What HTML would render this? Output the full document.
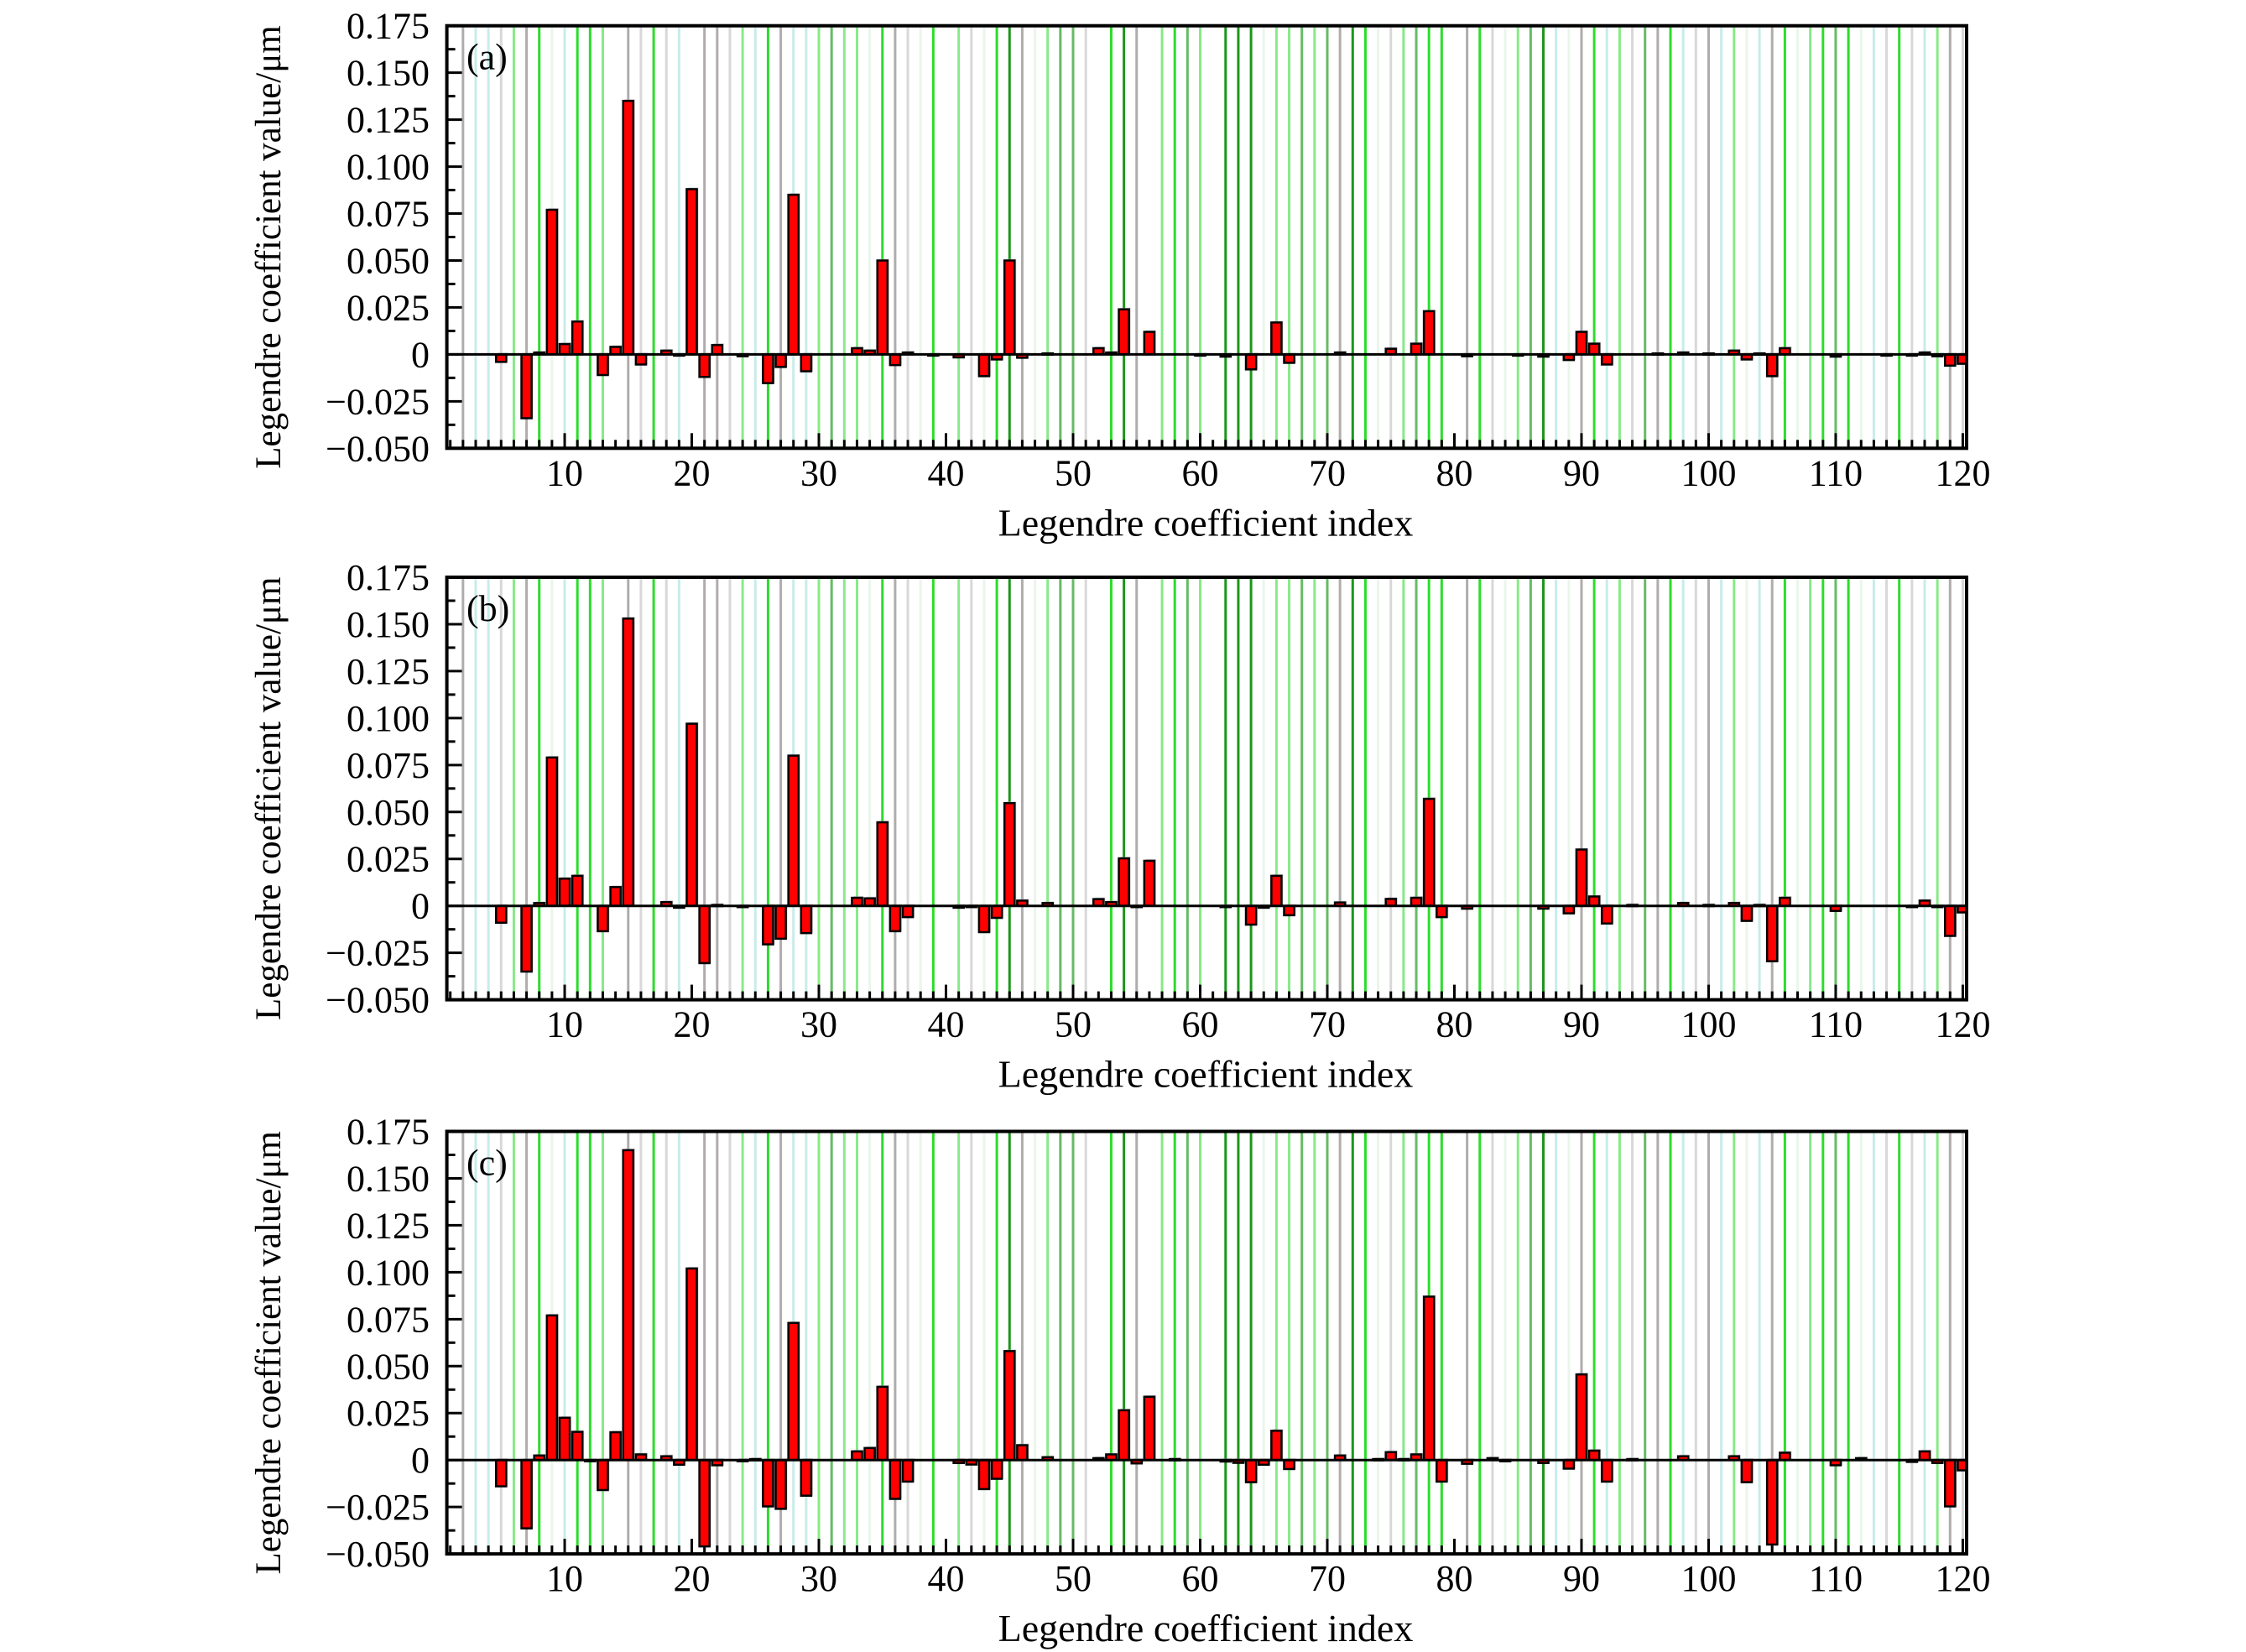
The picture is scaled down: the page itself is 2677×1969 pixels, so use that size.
<!DOCTYPE html>
<html><head><meta charset="utf-8"><style>
html,body{margin:0;padding:0;background:#fff;}
svg{display:block;font-family:"Liberation Serif",serif;}
</style></head><body>
<svg id="fig" width="2677" height="1969" viewBox="0 0 2677 1969" xmlns="http://www.w3.org/2000/svg"></svg>
<script>
// ---- data ----
const panelLabels = ["(a)", "(b)", "(c)"];
const yTicks = [-0.05, -0.025, 0, 0.025, 0.05, 0.075, 0.1, 0.125, 0.15, 0.175];
const yTickLabels = ["\u22120.050","\u22120.025","0","0.025","0.050","0.075","0.100","0.125","0.150","0.175"];
const xTicks = [10,20,30,40,50,60,70,80,90,100,110,120];
// grid line colour code per index 1..120
const gridCodes = "nKcckgKGvc" + "GGgnKkGkcn" + "KKkgcGKccg" + "mggvGKkvGn" + "gkvGdKvgmm" +
                  "knGdKngGmg" + "ndddvggmgm" + "KdGvkgmGGn" + "KGkvgmdcvK" + "GcgkmKGckK" +
                  "cgvcKGvgGm" + "GvckGkcgKk";
const idxA = [5,7,8,9,10,11,13,14,15,16,18,19,20,21,22,24,26,27,28,29,33,34,35,36,37,39,41,43,44,45,46,48,52,53,54,56,60,62,64,66,67,71,75,77,78,81,85,87,89,90,91,92,96,98,100,102,103,104,105,106,110,114,116,117,118,119,120];
const valA = [-0.004,-0.034,0.001,0.077,0.0055,0.0175,-0.011,0.004,0.135,-0.0054,0.002,-0.0005,0.088,-0.012,0.005,-0.001,-0.0153,-0.0067,0.085,-0.009,0.0033,0.002,0.05,-0.0057,0.001,-0.0005,-0.0016,-0.0116,-0.0027,0.05,-0.0018,0.0005,0.0033,0.001,0.024,0.012,-0.0005,-0.0012,-0.008,0.017,-0.0045,0.001,0.003,0.0057,0.023,-0.001,-0.0005,-0.0012,-0.003,0.012,0.0057,-0.0054,0.0005,0.001,0.0005,0.002,-0.0027,0.0005,-0.0116,0.0033,-0.0012,-0.0005,-0.0005,0.001,-0.001,-0.006,-0.005];
const idxB = [5,7,8,9,10,11,13,14,15,18,19,20,21,22,24,26,27,28,29,33,34,35,36,37,41,42,43,44,45,46,48,52,53,54,55,56,62,64,65,66,67,71,75,77,78,79,81,87,89,90,91,92,94,98,100,102,103,104,105,106,110,116,117,118,119,120];
const valB = [-0.009,-0.035,0.0015,0.079,0.0145,0.016,-0.0135,0.010,0.153,0.002,-0.001,0.097,-0.0305,0.0005,-0.0005,-0.0205,-0.0175,0.080,-0.0145,0.0043,0.004,0.0445,-0.0135,-0.006,-0.001,-0.0005,-0.014,-0.0064,0.0547,0.0028,0.0015,0.0036,0.002,0.0253,-0.0005,0.024,-0.0005,-0.010,-0.001,0.016,-0.005,0.0018,0.0037,0.0043,0.057,-0.006,-0.0015,-0.0015,-0.004,0.030,0.005,-0.0094,0.0005,0.0015,0.0005,0.0015,-0.008,0.0005,-0.0295,0.0043,-0.0027,-0.0005,0.0028,-0.0005,-0.016,-0.0035];
const idxC = [5,7,8,9,10,11,12,13,14,15,16,18,19,20,21,22,24,25,26,27,28,29,33,34,35,36,37,41,42,43,44,45,46,48,52,53,54,55,56,58,62,63,64,65,66,67,71,74,75,76,77,78,79,81,83,84,87,89,90,91,92,94,98,102,103,105,106,110,112,116,117,118,119,120];
const valC = [-0.014,-0.0364,0.0024,0.077,0.0225,0.015,-0.0005,-0.016,0.0148,0.165,0.003,0.002,-0.0025,0.102,-0.046,-0.0028,-0.0005,0.0005,-0.0247,-0.026,0.073,-0.019,0.0046,0.0064,0.039,-0.0207,-0.0115,-0.0016,-0.0024,-0.0155,-0.010,0.058,0.0079,0.0015,0.001,0.003,0.0265,-0.0018,0.0337,0.0005,-0.0008,-0.0015,-0.0118,-0.0025,0.0156,-0.0048,0.0024,0.0005,0.0042,0.0005,0.003,0.087,-0.0115,-0.002,0.001,-0.0005,-0.0016,-0.0046,0.0456,0.005,-0.0115,0.0005,0.002,0.002,-0.0118,-0.045,0.0039,-0.0028,0.001,-0.001,0.0046,-0.0016,-0.0247,-0.0055];
const panelIdx = [idxA, idxB, idxC];
const panelVal = [valA, valB, valC];

// ---- layout ----
const NS = "http://www.w3.org/2000/svg";
const svg = document.getElementById("fig");
const L = 532.6, R = 2344, H = 503.6;
const panelTops = [30.7, 688, 1348.5];
const X0 = 0.73, X1 = 120.3, Y0 = -0.05, Y1 = 0.175;
const colorMap = {K:"#b0acac",k:"#d8d8d8",c:"#c8ecea",v:"#eaf6ea",g:"#88ea88",G:"#2cdc2c",m:"#66bb66",d:"#1c961c"};
function xs(v){ return L + (v - X0) / (X1 - X0) * (R - L); }
function mk(tag, attrs, parent){
  const e = document.createElementNS(NS, tag);
  for (const k in attrs) e.setAttribute(k, attrs[k]);
  (parent || svg).appendChild(e);
  return e;
}
panelTops.forEach((top, p) => {
  const bottom = top + H;
  const ys = v => bottom - (v - Y0) / (Y1 - Y0) * H;
  const g = mk("g", {});
  
  
  for (let i = 1; i <= 120; i++) {
    const c = gridCodes[i - 1];
    if (c === "n") continue;
    const ln = mk("line", {x1: xs(i), x2: xs(i), y1: top, y2: bottom, stroke: colorMap[c], "stroke-width": 3}, g);
    
    
  }
  const idx = panelIdx[p], val = panelVal[p];
  const clipId = "clip" + p;
  const cp = mk("clipPath", {id: clipId}, g);
  mk("rect", {x: L, y: top, width: R - L, height: H}, cp);
  const bg = mk("g", {"clip-path": "url(#" + clipId + ")"}, g);
  const bw = 0.8 * (xs(1) - xs(0));
  idx.forEach((ix, k) => {
    const v = val[k];
    const y = Math.min(ys(v), ys(0)), h = Math.max(Math.abs(ys(v) - ys(0)), 1.5);
    const sh = mk("rect", {x: xs(ix) - bw / 2 + 2, y: y - 2, width: bw, height: h + 2, fill: "#aaa", opacity: 0.5}, bg);
    
    
    const r = mk("rect", {x: xs(ix) - bw / 2, y: y, width: bw, height: h, fill: "#ff0000", stroke: "#000", "stroke-width": 2.5}, bg);
    
    
  });
  const z = mk("line", {x1: L, x2: R, y1: ys(0), y2: ys(0), stroke: "#000", "stroke-width": 3}, g);
  
  
  const f = mk("rect", {x: L, y: top, width: R - L, height: H, fill: "none", stroke: "#000", "stroke-width": 4}, g);
  
  
  for (let i = 1; i <= 120; i++) {
    const len = (i % 10 === 0) ? 18 : 10;
    const t = mk("line", {x1: xs(i), x2: xs(i), y1: bottom, y2: bottom - len, stroke: "#000", "stroke-width": 3}, g);
    
    
  }
  xTicks.forEach(v => {
    const t = mk("text", {x: xs(v), y: bottom + 44, "font-size": 44, "text-anchor": "middle", fill: "#000"}, g);
    t.textContent = String(v);
    
    
  });
  for (let k = 0; k < 19; k++) {
    const v = Y0 + k * 0.0125;
    const len = (k % 2 === 0) ? 18 : 10;
    const t = mk("line", {x1: L, x2: L + len, y1: ys(v), y2: ys(v), stroke: "#000", "stroke-width": 3}, g);
    
    
  }
  yTicks.forEach((v, k) => {
    const t = mk("text", {x: 512, y: ys(v) + 15, "font-size": 44, "text-anchor": "end", fill: "#000"}, g);
    t.textContent = yTickLabels[k];
    
    
  });
  const pl = mk("text", {x: 556, y: top + 52, "font-size": 44, fill: "#000"}, g);
  pl.textContent = panelLabels[p];
  
  
  const xt = mk("text", {x: 1437, y: bottom + 104, "font-size": 46, "text-anchor": "middle", fill: "#000"}, g);
  xt.textContent = "Legendre coefficient index";
  
  
  const cy = top + H / 2 + 12;
  const yt = mk("text", {x: 0, y: 0, "font-size": 43, "text-anchor": "middle", fill: "#000", transform: "translate(334," + cy + ") rotate(-90)"}, g);
  yt.textContent = "Legendre coefficient value/\u03bcm";
  
  
});
</script>
</body></html>
